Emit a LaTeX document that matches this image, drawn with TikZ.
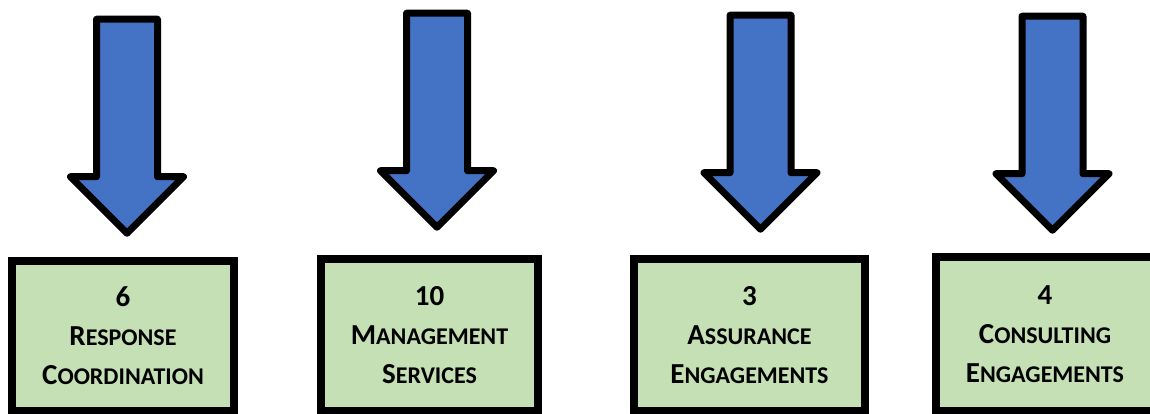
\documentclass[tikz,border=0pt]{standalone}
\usepackage{fontspec}
\setmainfont{Carlito}
\usepackage{tikz}
\usetikzlibrary{shapes.arrows}

\definecolor{arrowblue}{HTML}{4472C4}
\definecolor{boxgreen}{HTML}{C5E0B4}

% first capital, rest in smaller capitals
\newcommand\scword[2]{#1{\fontsize{24}{39}\selectfont #2}}

\begin{document}
\begin{tikzpicture}[
countbox/.style =
  {rectangle,
   draw=black, fill=boxgreen,
   line width=8pt, outer sep=0pt,
   align=center,
   font=\fontsize{29}{39}\selectfont\bfseries,
   minimum height=152pt},
down arrow/.style =
  {single arrow, rotate=-90,
   draw=black, fill=arrowblue,
   line width=7pt, line join=round,
   inner sep=27pt, single arrow head extend=26pt,
   minimum height=214pt, minimum width=106pt}
]
\useasboundingbox (0,0) rectangle (1150pt,414pt);
%Boxes
\node[countbox, minimum width=222pt, minimum height=150pt] (response) at (123pt,78pt)
  {6\\\scword{R}{ESPONSE}\\\scword{C}{OORDINATION}};
\node[countbox, minimum width=217pt] (management) at (429.5pt,79pt)
  {10\\\scword{M}{ANAGEMENT}\\\scword{S}{ERVICES}};
\node[countbox, minimum width=231pt] (assurance) at (749.5pt,79pt)
  {3\\\scword{A}{SSURANCE}\\\scword{E}{NGAGEMENTS}};
\node[countbox, minimum width=218pt, minimum height=154pt] (consulting) at (1045pt,80pt)
  {4\\\scword{C}{ONSULTING}\\\scword{E}{NGAGEMENTS}};
%Arrows
\node[down arrow] (response-arrow) at ([xshift=4pt,yshift=150pt]response.north){};
\node[down arrow] (management-arrow) at ([xshift=7.5pt,yshift=154pt]management.north){};
\node[down arrow] (assurance-arrow) at ([xshift=11pt,yshift=152pt]assurance.north){};
\node[down arrow] (consulting-arrow) at ([xshift=7.5pt,yshift=149pt]consulting.north){};
\end{tikzpicture}
\end{document}
